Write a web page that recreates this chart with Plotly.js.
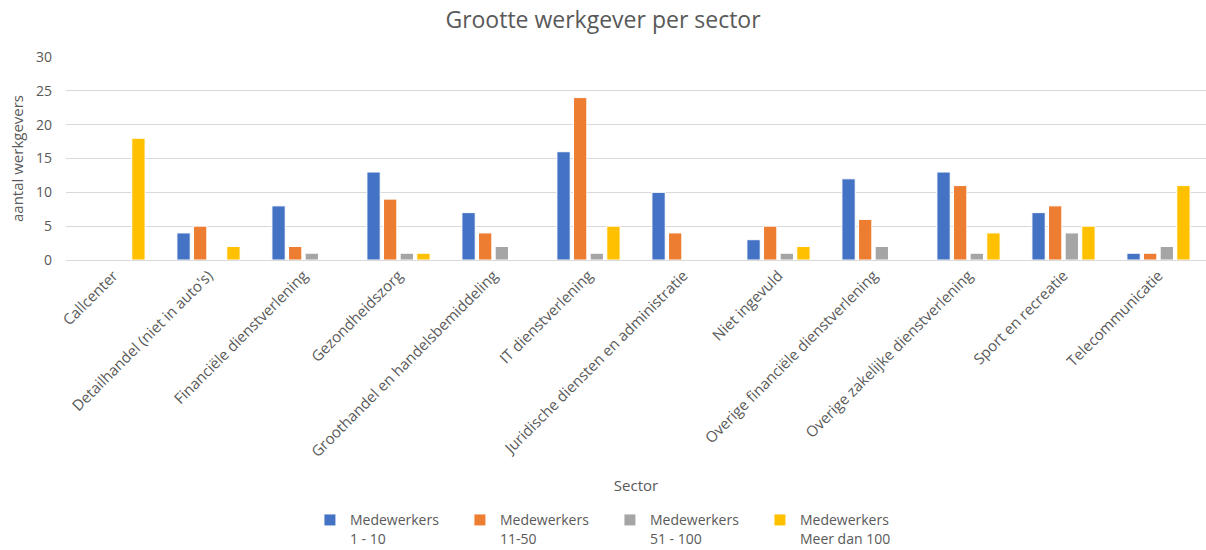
<!DOCTYPE html>
<html>
<head>
<meta charset="utf-8">
<script src="https://cdn.plot.ly/plotly-3.0.1.min.js"></script>
<style>html,body{margin:0;padding:0;background:#fff;}#chart{width:1206px;height:550px;}</style>
</head>
<body>
<div id="chart"></div>
<script>
const categories = [
  "Callcenter",
  "Detailhandel (niet in auto's)",
  "Financiële dienstverlening",
  "Gezondheidszorg",
  "Groothandel en handelsbemiddeling",
  "IT dienstverlening",
  "Juridische diensten en administratie",
  "Niet ingevuld",
  "Overige financiële dienstverlening",
  "Overige zakelijke dienstverlening",
  "Sport en recreatie",
  "Telecommunicatie"
];
const seriesNames = [
  "Medewerkers<br>1 - 10",
  "Medewerkers<br>11-50",
  "Medewerkers<br>51 - 100",
  "Medewerkers<br>Meer dan 100"
];
const mw1_10 = [0, 4, 8, 13, 7, 16, 10, 3, 12, 13, 7, 1];
const mw11_50 = [0, 5, 2, 9, 4, 24, 4, 5, 6, 11, 8, 1];
const mw51_100 = [0, 0, 1, 1, 2, 1, 0, 1, 2, 1, 4, 2];
const mwMeer100 = [18, 2, 0, 1, 0, 5, 0, 2, 0, 4, 5, 11];
const yTicks = [0, 5, 10, 15, 20, 25, 30];

const colors = ["#4472C4", "#ED7D31", "#A5A5A5", "#FFC000"];
const allSeries = [mw1_10, mw11_50, mw51_100, mwMeer100];

const traces = allSeries.map((vals, i) => ({
  type: "bar",
  x: categories,
  y: vals,
  name: seriesNames[i],
  marker: {color: colors[i], line: {color: "#ffffff", width: 1}},
  hoverinfo: "x+y+name"
}));

const font = "'Open Sans', 'Noto Sans', sans-serif";
const layout = {
  width: 1206,
  height: 550,
  paper_bgcolor: "#ffffff",
  plot_bgcolor: "#ffffff",
  margin: {l: 66, r: 0, t: 57, b: 290},
  font: {family: font, color: "#595959", size: 14},
  title: {
    text: "Grootte werkgever per sector",
    font: {family: font, size: 23, color: "#595959"},
    x: 0.5, xanchor: "center", y: 0.963, yanchor: "middle", yref: "container"
  },
  barmode: "group",
  bargap: 0.3,
  bargroupgap: 0.2,
  xaxis: {
    type: "category",
    tickangle: -45,
    tickfont: {family: font, size: 15, color: "#595959"},
    showgrid: false,
    showline: true,
    linecolor: "#d9d9d9",
    linewidth: 1,
    ticks: "",
    automargin: false,
    title: {text: "Sector", font: {family: font, size: 15, color: "#595959"}, standoff: 20}
  },
  yaxis: {
    range: [0, 30],
    tickvals: yTicks,
    ticktext: yTicks.map(String),
    showgrid: true,
    gridcolor: "#d9d9d9",
    gridwidth: 1,
    zeroline: false,
    showline: false,
    ticks: "",
    ticklabelstandoff: 13,
    tickfont: {family: font, size: 14, color: "#595959"},
    automargin: false,
    title: {text: "aantal werkgevers", font: {family: font, size: 15, color: "#595959"}, standoff: 8}
  },
  showlegend: true,
  legend: {
    orientation: "h",
    xref: "container",
    yref: "container",
    x: 0.257,
    xanchor: "left",
    y: 0.083,
    yanchor: "top",
    entrywidth: 105,
    entrywidthmode: "pixels",
    valign: "top",
    font: {family: font, size: 14, color: "#595959"},
    itemwidth: 30,
    traceorder: "normal"
  }
};

Plotly.newPlot("chart", traces, layout, {displayModeBar: false, staticPlot: true});
</script>
</body>
</html>
